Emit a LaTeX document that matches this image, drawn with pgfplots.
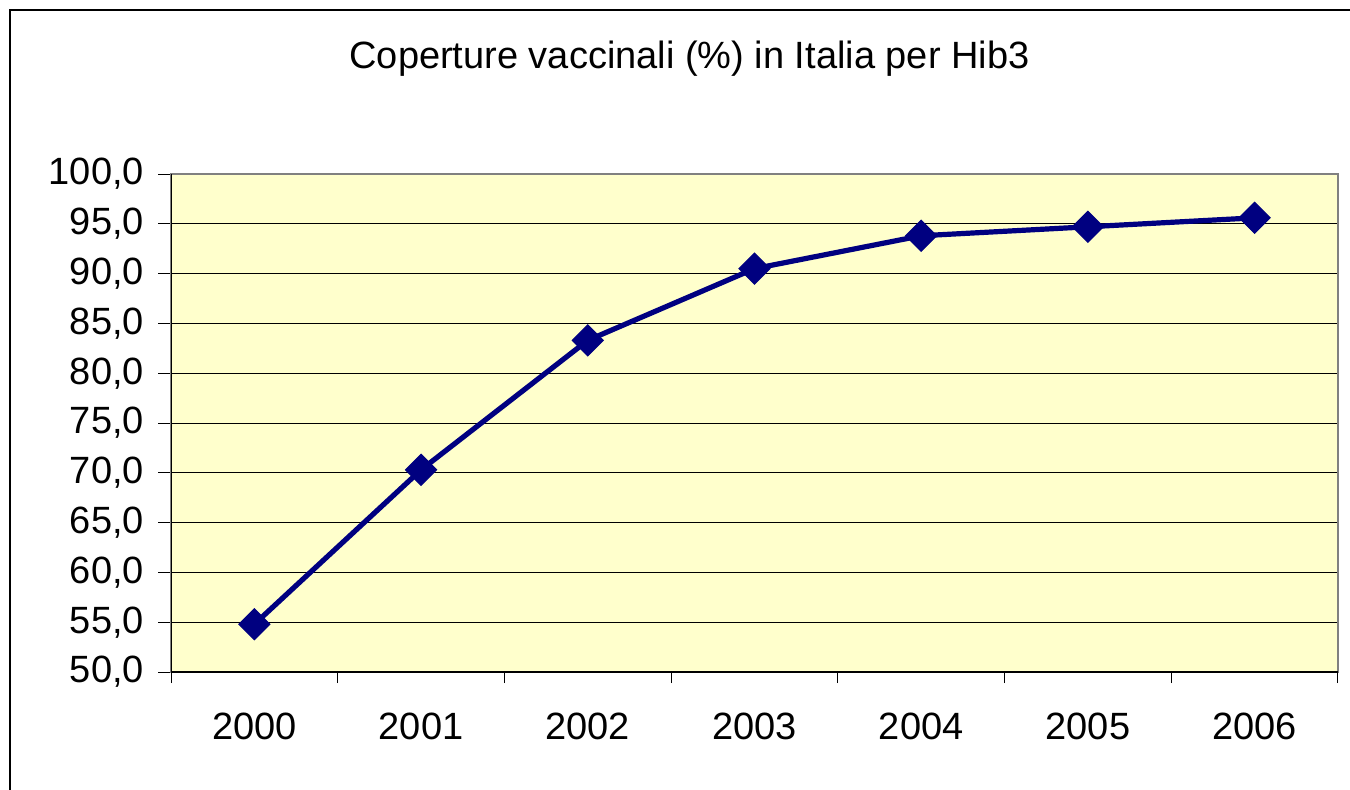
\documentclass[border=0pt]{standalone}
\usepackage{fontspec}
\setmainfont{Liberation Sans}
\usepackage{pgfplots}
\pgfplotsset{compat=1.18}
\definecolor{navyline}{RGB}{0,0,128}
\definecolor{plotbg}{RGB}{255,255,204}
\definecolor{bordergray}{RGB}{128,128,128}
\begin{document}
\begin{tikzpicture}
\useasboundingbox (0,0) rectangle (675pt,-395pt);
\fill[white] (0,0) rectangle (675pt,-395pt);
\draw[black, line width=0.6pt] (5pt,-395pt) -- (5pt,-5pt) -- (675pt,-5pt);
\node[anchor=base, font=\fontsize{19}{22}\selectfont] at (344.75pt,-34.5pt) {Coperture vaccinali (\%) in Italia per Hib3};
\begin{axis}[
  at={(85.5pt,-336pt)}, anchor=south west,
  scale only axis, width=583.5pt, height=249pt,
  xmin=-0.5, xmax=6.5, ymin=50, ymax=100,
  xtick={0,1,2,3,4,5,6},
  xticklabels={2000,2001,2002,2003,2004,2005,2006},
  minor xtick={-0.5,0.5,1.5,2.5,3.5,4.5,5.5,6.5},
  ytick={50,55,...,100},
  xtick pos=bottom, ytick pos=left,
  tick align=outside,
  major tick length=6.5pt, minor tick length=5.5pt,
  major x tick style={draw=none},
  minor x tick style={black, line width=0.5pt},
  major y tick style={black, line width=0.5pt},
  ymajorgrids, major grid style={black, line width=0.5pt},
  axis background/.style={fill=plotbg},
  axis line style={bordergray, line width=1pt},
  every tick label/.append style={font=\fontsize{19}{22}\selectfont},
  xticklabel style={yshift=-10.5pt},
  yticklabel style={xshift=-3.5pt},
  /pgf/number format/.cd, fixed, fixed zerofill, precision=1, use comma, assume math mode=true,
]
\addplot[navyline, line width=2.6pt, mark=square*, mark size=5.5pt,
  mark options={solid, fill=navyline, draw=navyline, line width=0.5pt, rotate=45}]
  coordinates {(0,54.8) (1,70.3) (2,83.3) (3,90.5) (4,93.8) (5,94.7) (6,95.6)};
\draw[black, line width=0.6pt] (rel axis cs:0,1) -- (rel axis cs:0,0) -- (rel axis cs:1,0);
\end{axis}
\end{tikzpicture}
\end{document}
